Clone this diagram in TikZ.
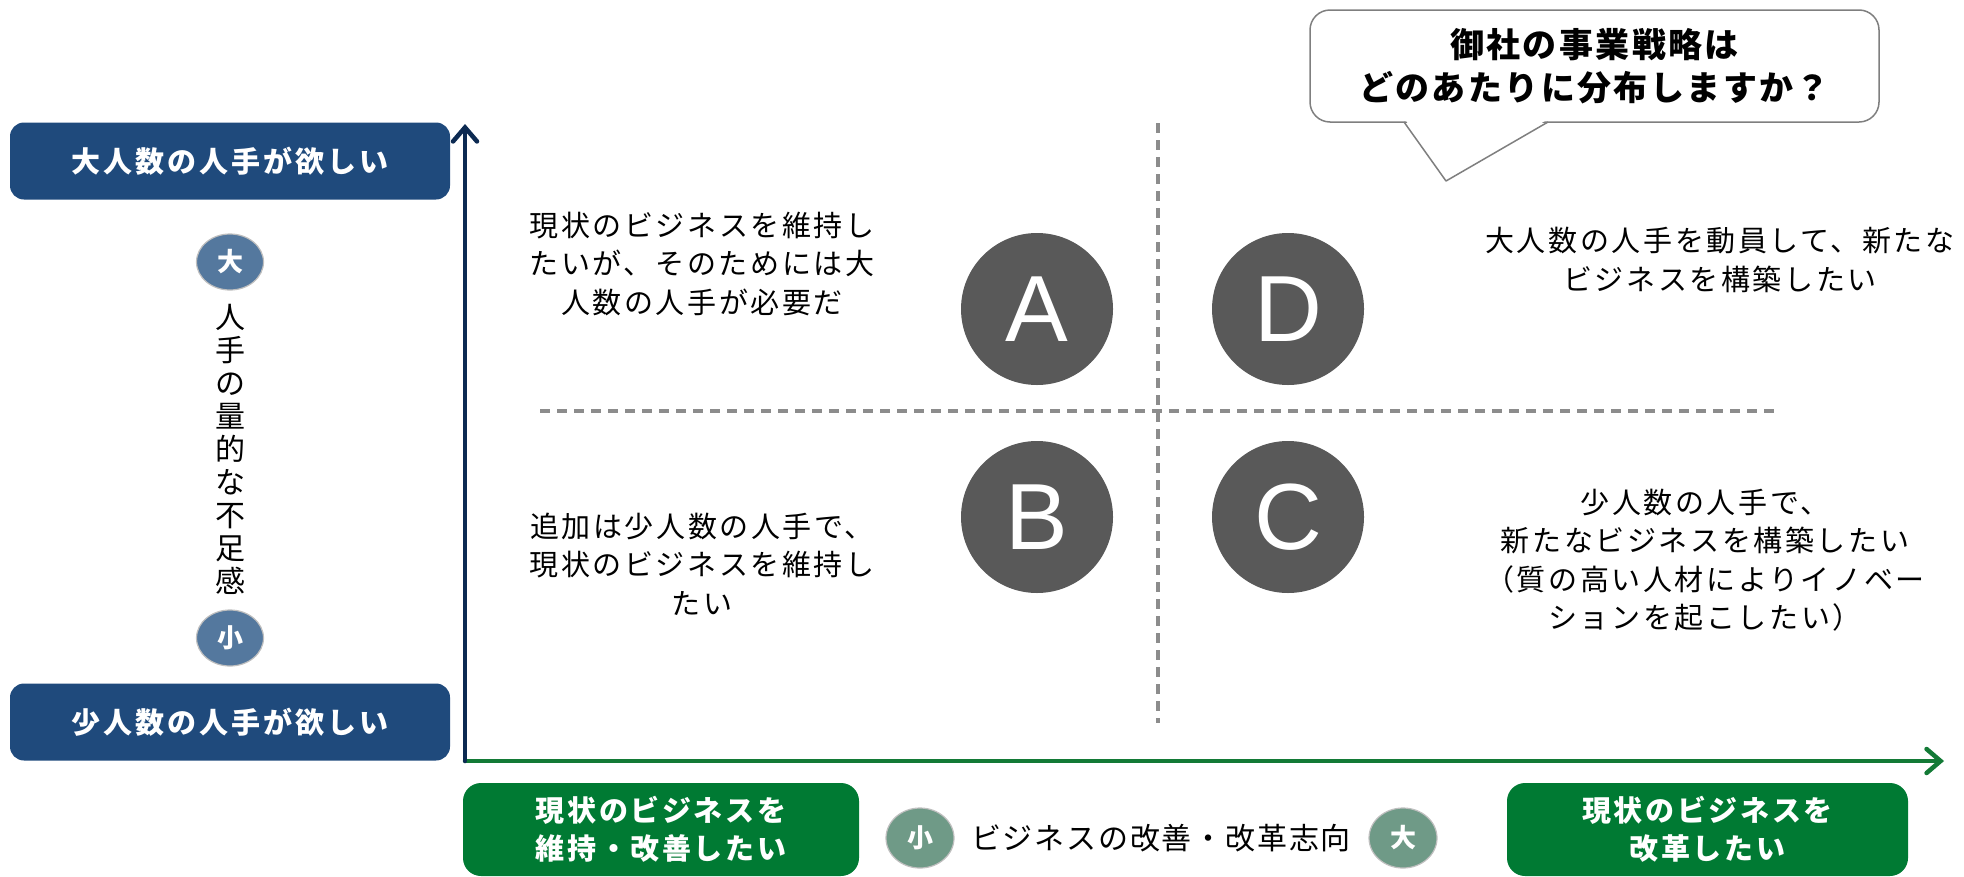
\documentclass[tikz,border=0pt]{standalone}
\usepackage{fontspec}
\setmainfont{Noto Sans CJK JP}
\newfontfamily\latfont{Liberation Sans}
\usetikzlibrary{arrows.meta,shapes.geometric}
\definecolor{boxblue}{HTML}{1F4A7C}
\definecolor{smallblue}{HTML}{54789E}
\definecolor{boxgreen}{HTML}{007A33}
\definecolor{smallgreen}{HTML}{6F9A87}
\definecolor{circgray}{HTML}{595959}
\definecolor{dashgray}{HTML}{8C8C8C}
\definecolor{yaxiscol}{HTML}{0C2A52}
\definecolor{xaxiscol}{HTML}{137A36}
\definecolor{bubblegray}{HTML}{7F7F7F}
\tikzset{
  bluebox/.style={rectangle, rounded corners=14pt, fill=boxblue, text=white,
    minimum width=440pt, minimum height=77pt, inner sep=0pt,
    font=\bfseries\fontsize{29}{29}\selectfont\addfontfeature{LetterSpace=10}},
  greenbox/.style={rectangle, rounded corners=18pt, fill=boxgreen, text=white,
    minimum width=396pt, minimum height=93pt, inner sep=0pt, align=center,
    font=\bfseries\fontsize{29}{38}\selectfont\addfontfeature{LetterSpace=9}},
  smallcirc/.style={ellipse, draw=black!25, line width=1.2pt, text=white, inner sep=0pt,
    font=\bfseries\fontsize{26}{26}\selectfont},
  bigcirc/.style={circle, fill=circgray, minimum size=152pt, inner sep=0pt, text=white,
    font=\latfont\fontsize{94}{94}\selectfont},
  quadtext/.style={align=center, inner sep=0pt,
    font=\fontsize{29}{38.5}\selectfont\addfontfeature{LetterSpace=9}},
  quaddash/.style={dashgray, line width=4pt, dash pattern=on 10pt off 7pt},
  axisline/.style={line width=4.5pt, line cap=round,
    -{Straight Barb[length=14pt,width=24pt,line cap=round]}},
  bubblebox/.style={rectangle, rounded corners=20pt, draw=bubblegray, line width=1.5pt,
    fill=white, minimum width=569pt, minimum height=112pt, inner sep=0pt, align=center,
    font=\bfseries\fontsize{34}{43}\selectfont\addfontfeature{LetterSpace=7}}
}
\begin{document}
\begin{tikzpicture}[x=1pt,y=-1pt]
\useasboundingbox (0,0) rectangle (1964,876);

% left y-axis side
\node[bluebox] (big) at (230,161) {大人数の人手が欲しい};
\node[bluebox] (small) at (230,722) {少人数の人手が欲しい};
\node[smallcirc, fill=smallblue, minimum width=67pt, minimum height=56pt] (ybig) at (230,262) {大};
\node[smallcirc, fill=smallblue, minimum width=67pt, minimum height=56pt] (ysmall) at (230,638) {小};
\node[align=center, inner sep=0pt, font=\fontsize{30}{33}\selectfont] (ylabel) at (230,449)
  {人\\手\\の\\量\\的\\な\\不\\足\\感};

% axes
\coordinate (O) at (465,761);
\coordinate (ytop) at (465,124);
\coordinate (xend) at (1944,761);
\draw[axisline, xaxiscol] (O) -- (xend);
\draw[axisline, yaxiscol] (O) -- (ytop);

% quadrant dashed lines
\coordinate (vtop) at (1158,123);
\coordinate (vbot) at (1158,723);
\coordinate (hleft) at (540,411);
\coordinate (hright) at (1780,411);
\draw[quaddash] (vtop) -- (vbot);
\draw[quaddash] (hleft) -- (hright);

% circles
\node[bigcirc] (A) at (1037,309) {A};
\node[bigcirc] (D) at (1288,309) {D};
\node[bigcirc] (B) at (1037,517) {B};
\node[bigcirc] (C) at (1288,517) {C};

% quadrant texts
\node[quadtext] (ta) at (702,264) {現状のビジネスを維持し\\たいが、そのためには大\\人数の人手が必要だ};
\node[quadtext] (tb) at (702,564) {追加は少人数の人手で、\\現状のビジネスを維持し\\たい};
\node[quadtext] (td) at (1720,260) {大人数の人手を動員して、新たな\\ビジネスを構築したい};
\node[quadtext] (tc) at (1705,560) {少人数の人手で、\\新たなビジネスを構築したい\\（質の高い人材によりイノベー\\ションを起こしたい）};

% speech bubble
\node[bubblebox] (q) at (1594.5,66) {御社の事業戦略は\\どのあたりに分布しますか？};
\coordinate (tl) at (1404,122);
\coordinate (tip) at (1446,181);
\coordinate (tr) at (1548,122);
\fill[white] (1405.5,120) -- (1546.5,120) -- (tip) -- cycle;
\draw[bubblegray, line width=1.5pt, line join=round] (tl) -- (tip) -- (tr);

% bottom x-axis labels
\node[greenbox] (keep) at (661,829.5) {現状のビジネスを\\維持・改善したい};
\node[greenbox, minimum width=401pt] (reform) at (1707.5,829.5) {現状のビジネスを\\改革したい};
\node[smallcirc, fill=smallgreen, minimum width=68pt, minimum height=60pt] (xsmall) at (920,838) {小};
\node[smallcirc, fill=smallgreen, minimum width=68pt, minimum height=60pt] (xbig) at (1403,838) {大};
\node[inner sep=0pt, font=\fontsize{30}{30}\selectfont\addfontfeature{LetterSpace=6}] (xlabel) at (1161,838) {ビジネスの改善・改革志向};
\end{tikzpicture}
\end{document}
